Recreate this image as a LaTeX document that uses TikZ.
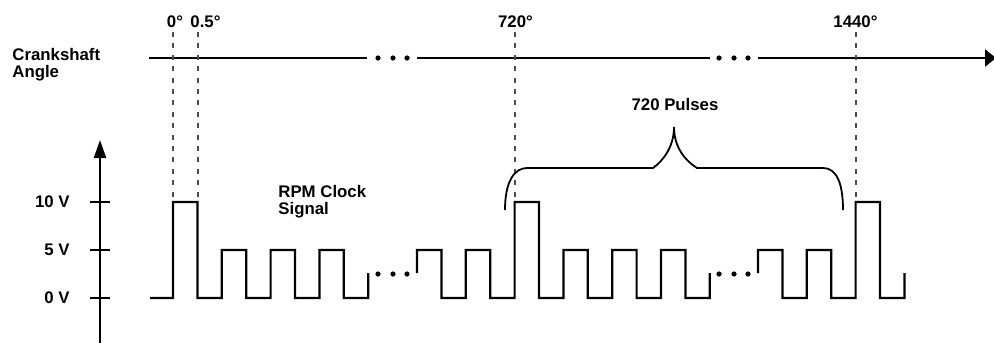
\documentclass[tikz,border=0pt]{standalone}
\usepackage{fontspec}
\setmainfont{Liberation Sans}
\usetikzlibrary{arrows.meta}

\begin{document}
\begin{tikzpicture}[
    x=0.5pt,y=-0.5pt,
    every node/.style={font=\fontsize{8.4}{8.6}\selectfont\bfseries,inner sep=0pt},
    lbl/.style={align=left,anchor=north west},
    deg/.style={anchor=base},
    volt/.style={anchor=east},
    axis/.style={line width=1.1pt},
    tick/.style={line width=0.7pt},
    guide/.style={line width=0.65pt,draw=black!70,dash pattern=on 2.5pt off 3.2pt},
    sig/.style={line width=1.1pt,line join=miter},
    brace/.style={line width=0.9pt},
  ]
  \useasboundingbox (0,0) rectangle (994,345);
  % labels
  \node[lbl] (crank) at (12,48)  {Crankshaft\\Angle};
  \node[lbl] (rpm)   at (278,185) {RPM Clock\\Signal};
  \node[deg] (d0)    at (175,27)  {0°};
  \node[deg] (d05)   at (205.5,27) {0.5°};
  \node[deg] (d720)  at (515.5,27) {720°};
  \node[deg] (d1440) at (855.5,27) {1440°};
  \node[anchor=base] (pulses) at (675,110) {720 Pulses};
  \node[volt] (v10) at (70,202) {10 V};
  \node[volt] (v5)  at (70,250) {5 V};
  \node[volt] (v0)  at (70,298) {0 V};
  % crankshaft angle axis
  \draw[axis] (149,58) -- (367,58);
  \draw[axis] (417,58) -- (710,58);
  \draw[axis,-{Triangle[length=5.5pt,width=8.5pt]}] (758,58) -- (996,58);
  \foreach \x in {378,393,407,719,734,748} {
    \fill (\x,58) circle[radius=1.3pt];
    \fill (\x,274) circle[radius=1.3pt];
  }
  \foreach \x in {173,198,515,856}
    \draw[guide] (\x,32) -- (\x,202);
  % voltage axis
  \draw[axis,-{Triangle[length=9pt,width=6pt]}] (100,343) -- (100,140);
  \foreach \y in {202,250,298}
    \draw[tick] (90,\y) -- (110,\y);
  % clock signal
  \draw[sig] (150,298) -- (173,298)
    \foreach \v [count=\i] in {202,298,250,298,250,298,250,298} { |- (173+24.4*\i,\v) }
    -- (368.2,273);
  \draw[sig] (417,273)
    \foreach \v [count=\i] in {250,298,250,298,202,298,250,298,250,298,250,298} { |- (417+24.4*\i,\v) }
    -- (709.8,273);
  \draw[sig] (758,273)
    \foreach \v [count=\i] in {250,298,250,298,202,298} { |- (758+24.4*\i,\v) }
    -- (904.4,273);
  % brace over the pulses
  \draw[brace] (505,210) .. controls (505,182) and (514,168) .. (527,168) -- (653,168)
    .. controls (664,160) and (674,146) .. (674,127)
    .. controls (674,146) and (684,160) .. (697,168) -- (823,168)
    .. controls (836,168) and (843,182) .. (843,210);
\end{tikzpicture}
\end{document}
